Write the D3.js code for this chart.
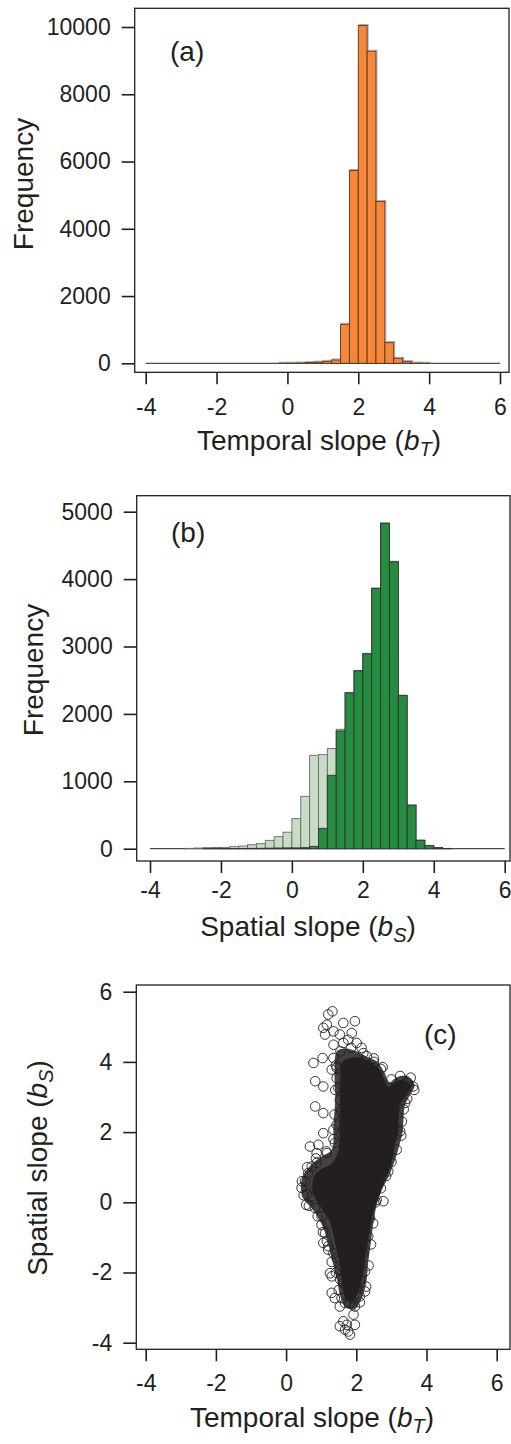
<!DOCTYPE html>
<meta charset="utf-8">
<style>
body { margin: 0; background: #fff; }
svg { display: block; }
text { font-family: "Liberation Sans", Arial, Helvetica, sans-serif; fill: #231f20; }
.box { fill: none; stroke: #231f20; stroke-width: 1.3; }
.axis .domain { display: none; }
.axis line { stroke: #231f20; stroke-width: 1.6; }
.axis text { font-size: 23px; }
.lab { font-size: 28px; }
.tag { font-size: 28px; }
.baseline { stroke: #231f20; stroke-width: 1; }
</style>
<body>
<svg id="chart"></svg>

<script src="https://d3js.org/d3.v7.min.js"></script>
<script>

// bin lower edges, width 0.25, from -4 to 6
var binWidth = 0.25;
var binLow = [-4, -3.75, -3.5, -3.25, -3, -2.75, -2.5, -2.25, -2, -1.75, -1.5, -1.25,
  -1, -0.75, -0.5, -0.25, 0, 0.25, 0.5, 0.75, 1, 1.25, 1.5, 1.75,
  2, 2.25, 2.5, 2.75, 3, 3.25, 3.5, 3.75, 4, 4.25, 4.5, 4.75, 5, 5.25, 5.5, 5.75];

// (a) temporal slope counts
var countsTemporal = [0,0,0,0, 0,0,0,0, 0,0,0,0, 0,0,0,2,
  3,8,20,35, 60,100,1160,5735, 10045,9280,4810,615, 150,50,5,2, 0,0,0,0, 0,0,0,0];

// (b) spatial slope counts: all (light) and subset (dark)
var countsSpatialAll = [0,0,0,0, 5,10,15,18, 20,30,40,59, 74,124,178,245,
  446,777,1386,1396, 1485,1772,2320,2645, 2898,3868,4834,4264, 2278,650,128,48, 18,5,0,0, 0,0,0,0];
var countsSpatialSub = [0,0,0,0, 0,0,2,2, 3,3,4,5, 6,8,10,12,
  12,15,35,302, 1089,1748,2312,2639, 2891,3861,4827,4257, 2272,644,124,45, 15,3,0,0, 0,0,0,0];

var slopeTicks = [-4, -2, 0, 2, 4, 6];
var freqTicksA = [0, 2000, 4000, 6000, 8000, 10000];
var freqTicksB = [0, 1000, 2000, 3000, 4000, 5000];

// (c) dense cloud outline (bT, bS), outer halo and solid core
var cloudHalo = [[1.45,4.3],[1.7,4.38],[2.0,4.3],[2.3,4.15],[2.6,4.0],[2.8,3.7],[2.95,3.42],[3.15,3.56],[3.45,3.6],[3.66,3.35],
  [3.5,3.0],[3.38,2.75],[3.34,2.3],[3.32,2.0],[3.22,1.6],[3.1,1.2],[2.95,0.8],[2.75,0.4],[2.6,0.0],[2.5,-0.5],
  [2.42,-1.1],[2.34,-1.7],[2.28,-2.3],[2.15,-2.75],[1.95,-3.05],[1.7,-3.0],[1.55,-2.7],[1.45,-2.2],[1.3,-1.6],[1.15,-1.0],
  [1.0,-0.6],[0.75,-0.2],[0.5,0.1],[0.42,0.45],[0.5,0.8],[0.75,1.1],[1.0,1.3],[1.3,1.5],[1.35,2.2],[1.4,3.0],[1.38,3.7]];
var cloudCore = [[1.6,4.0],[1.85,4.12],[2.1,4.12],[2.35,4.02],[2.6,3.85],[2.78,3.55],[2.92,3.3],[3.1,3.42],[3.35,3.48],[3.55,3.32],
  [3.4,3.05],[3.25,2.8],[3.2,2.4],[3.2,2.05],[3.1,1.6],[2.98,1.05],[2.8,0.6],[2.6,0.05],[2.45,-0.4],[2.36,-0.95],
  [2.26,-1.55],[2.18,-2.1],[2.06,-2.55],[1.88,-2.85],[1.72,-2.8],[1.62,-2.45],[1.55,-1.9],[1.45,-1.4],[1.35,-0.95],
  [1.25,-0.55],[1.1,-0.3],[0.9,0.0],[0.75,0.35],[0.8,0.75],[1.0,0.95],[1.3,1.1],[1.5,1.5],[1.52,2.2],[1.54,3.0],[1.55,3.6]];

// (c) individual points outside the dense cloud
var outliers = [
  [1.20,5.35],[1.32,5.44],[1.16,5.06],[1.63,5.11],[1.96,5.16],[1.06,4.97],[1.11,4.78],[1.35,4.87],[1.53,4.78],[1.87,4.82],
  [1.35,4.49],[1.63,4.54],[1.77,4.63],[2.01,4.54],[2.15,4.40],[2.30,4.16],[0.78,3.97],[1.04,4.11],[1.35,4.11],[1.30,3.78],
  [1.44,3.83],[0.83,3.45],[1.06,3.30],[1.44,3.54],[1.49,3.26],[0.83,2.73],[1.06,2.54],[1.53,2.92],[1.58,2.59],[1.44,2.21],
  [1.35,2.07],[1.06,1.97],[0.68,1.59],[0.92,1.64],[0.87,1.40],[1.16,1.40],[1.39,1.69],[2.77,0.03],[3.25,2.02],[3.39,2.83],
  [3.62,3.30],[2.91,0.88],[2.58,0.07],[2.39,-0.45],[2.34,-0.97],[2.25,-1.97],[2.25,-2.54],[0.44,0.41],[0.54,0.60],[0.59,0.22],
  [0.57,-0.07],[0.82,-0.16],[0.63,0.83],[0.73,1.02],[0.87,1.12],[0.97,0.74],[0.82,0.36],[0.73,0.17],[1.01,0.07],[1.11,0.36],
  [1.25,0.74],[1.16,-0.12],[1.01,-0.40],[1.20,-0.59],[1.01,-0.64],[1.11,-0.88],[1.16,-1.11],[1.06,-1.16],[1.20,-1.35],[1.35,-1.45],
  [1.25,-2.02],[1.30,-2.11],[1.44,-1.59],[1.53,-1.92],[1.30,-2.58],[1.39,-2.73],[1.53,-2.97],[1.68,-2.87],[1.82,-2.87],[1.92,-3.20],
  [1.96,-2.97],[2.10,-2.68],[1.53,-3.53],[1.63,-3.39],[1.73,-3.49],[1.77,-3.68],[1.82,-3.77],[1.96,-3.49],[1.68,-3.63],[1.58,-2.73],
  [2.01,-2.44],[1.73,-2.40],[1.63,-2.30],[1.54,-2.20],[2.10,-2.21],[2.20,-1.45],[3.45,3.40],[3.30,3.10],[2.50,4.00],[2.70,3.80],
  [3.30,2.30],[3.28,1.90],[3.15,1.50],[3.00,1.15],[2.85,0.75],[2.70,0.40],[2.55,0.00],[2.48,-0.60],[2.42,-1.20],[2.35,-1.80],
  [2.28,-2.40],[2.10,-2.85],[1.50,-2.50],[1.42,-2.00],[1.30,-1.70],[1.20,-1.25],[1.05,-0.85],[0.90,-0.40],[0.65,-0.10],[0.50,0.20],
  [0.45,0.60],[0.60,1.00],[0.85,1.25],[1.15,1.45],[1.35,1.80],[1.38,2.50],[1.40,3.20],[1.42,3.90],[1.55,4.30],[1.85,4.40],
  [2.20,4.25],[2.50,4.10],[2.75,3.85],[3.00,3.50],[3.25,3.60],[3.55,3.55],[3.65,3.20],[3.45,2.95],[3.35,2.65]
];

var ink = "#231f20";

var svg = d3.select("#chart").attr("width", 511).attr("height", 1444);

function panel(cfg) {
  var g = svg.append("g");
  var x = d3.scaleLinear().domain([-4, 6]).range(cfg.xr);
  var y = d3.scaleLinear().domain(cfg.yd).range(cfg.yr);
  cfg.draw(g, x, y);

  g.append("rect").attr("class", "box")
    .attr("x", cfg.box[0]).attr("y", cfg.box[2])
    .attr("width", cfg.box[1] - cfg.box[0]).attr("height", cfg.box[3] - cfg.box[2]);

  g.append("g").attr("class", "axis")
    .attr("transform", "translate(0," + cfg.box[3] + ")")
    .call(d3.axisBottom(x).tickValues(slopeTicks).tickSize(12).tickPadding(cfg.xpad).tickFormat(d3.format("d")));
  g.append("g").attr("class", "axis")
    .attr("transform", "translate(" + cfg.box[0] + ",0)")
    .call(d3.axisLeft(y).tickValues(cfg.yt).tickSize(13).tickPadding(11).tickFormat(d3.format("d")));
  g.selectAll(".axis text").text(function() { return this.textContent.replace("\u2212", "-"); });

  g.append("text").attr("class", "tag").attr("x", cfg.tag[0]).attr("y", cfg.tag[1]).text(cfg.tagText);

  var xl = g.append("text").attr("class", "lab").attr("text-anchor", "middle")
    .attr("x", cfg.xlab[0]).attr("y", cfg.xlab[1]);
  label(xl, cfg.xlabText);
  var yl = g.append("text").attr("class", "lab").attr("text-anchor", "middle")
    .attr("transform", "translate(" + cfg.ylab[0] + "," + cfg.ylab[1] + ") rotate(-90)");
  label(yl, cfg.ylabText);
}

function label(t, parts) {
  t.append("tspan").text(parts[0]);
  if (parts.length > 1) {
    t.append("tspan").attr("font-style", "italic").text("b");
    t.append("tspan").attr("font-style", "italic").attr("font-size", "20px").attr("dy", 6).text(parts[1]);
    t.append("tspan").attr("dy", -6).text(")");
  }
}

function bars(g, x, y, counts, fill, stroke, shadow) {
  var data = binLow.map(function(b, i) { return { x0: b, x1: b + binWidth, n: counts[i] }; })
    .filter(function(d) { return d.n > 0; });
  if (shadow) {
    g.append("g").selectAll("rect").data(data).join("rect")
      .attr("x", function(d) { return x(d.x0) + 1; })
      .attr("y", function(d) { return y(d.n) - 1; })
      .attr("width", function(d) { return x(d.x1) - x(d.x0); })
      .attr("height", function(d) { return y(0) - y(d.n); })
      .attr("fill", "none").attr("stroke", shadow).attr("stroke-width", 1);
  }
  g.append("g").selectAll("rect").data(data).join("rect")
    .attr("x", function(d) { return x(d.x0); })
    .attr("y", function(d) { return y(d.n); })
    .attr("width", function(d) { return x(d.x1) - x(d.x0); })
    .attr("height", function(d) { return y(0) - y(d.n); })
    .attr("fill", fill).attr("stroke", stroke).attr("stroke-width", 0.9);
}

function baseline(g, x, y) {
  g.append("line").attr("class", "baseline")
    .attr("x1", x(binLow[0])).attr("x2", x(binLow[binLow.length - 1] + binWidth))
    .attr("y1", y(0)).attr("y2", y(0));
}

// (a)
panel({
  box: [134.7, 509, 8.3, 372.3], xr: [145.7, 500], yd: [0, 10000], yr: [363.3, 27],
  yt: freqTicksA, xpad: 14,
  tag: [170, 61], tagText: "(a)",
  xlab: [319, 450], xlabText: ["Temporal slope (", "T"],
  ylab: [33, 184], ylabText: ["Frequency"],
  draw: function(g, x, y) {
    baseline(g, x, y);
    bars(g, x, y, countsTemporal, "#f5873a", "#5a3418", "#a9a9a9");
  }
});

// (b)
panel({
  box: [136.7, 510, 495.7, 861], xr: [150, 504.7], yd: [0, 5000], yr: [848.7, 511.7],
  yt: freqTicksB, xpad: 9,
  tag: [171, 542], tagText: "(b)",
  xlab: [308, 936], xlabText: ["Spatial slope (", "S"],
  ylab: [43, 670], ylabText: ["Frequency"],
  draw: function(g, x, y) {
    baseline(g, x, y);
    bars(g, x, y, countsSpatialAll, "#c7dbc5", "#6a6a6a", null);
    bars(g, x, y, countsSpatialSub, "#268c40", "#333333", null);
  }
});

// (c)
panel({
  box: [136.3, 510, 985, 1349.3], xr: [145.7, 496.7], yd: [-4, 6], yr: [1342.7, 991.7],
  yt: slopeTicks, xpad: 13,
  tag: [424, 1044], tagText: "(c)",
  xlab: [312, 1427], xlabText: ["Temporal slope (", "T"],
  ylab: [47, 1168], ylabText: ["Spatial slope (", "S"],
  draw: function(g, x, y) {
    var area = d3.line().x(function(d) { return x(d[0]); }).y(function(d) { return y(d[1]); })
      .curve(d3.curveCatmullRomClosed);
    g.append("path").attr("d", area(cloudHalo)).attr("fill", ink).attr("opacity", 0.85);
    g.append("path").attr("d", area(cloudCore)).attr("fill", ink);
    g.append("g").selectAll("circle").data(outliers).join("circle")
      .attr("cx", function(d) { return x(d[0]); })
      .attr("cy", function(d) { return y(d[1]); })
      .attr("r", 4.8)
      .attr("fill", "none").attr("stroke", ink).attr("stroke-width", 0.9);
  }
});

</script>
